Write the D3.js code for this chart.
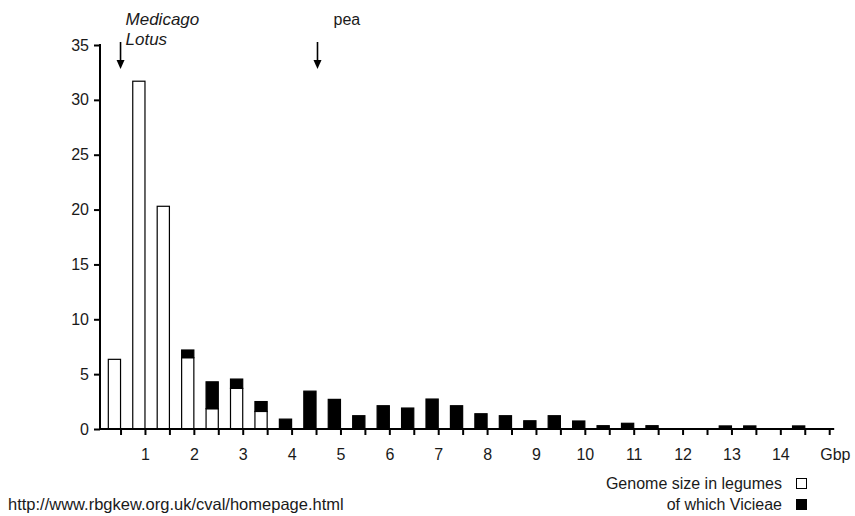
<!DOCTYPE html>
<html>
<head>
<meta charset="utf-8">
<script src="https://cdn.jsdelivr.net/npm/d3@7"></script>
<style>
  html, body { margin: 0; padding: 0; background: #fff; }
  svg text { font-family: "Liberation Sans", Arial, sans-serif; fill: #1a1a1a; }
</style>
</head>
<body>
<svg id="chart" width="855" height="516"></svg>
<script>
// ---- data ----
// upper edge (Gbp) of each 0.5 Gbp genome-size bin
const binEdges = [0.5, 1, 1.5, 2, 2.5, 3, 3.5, 4, 4.5, 5, 5.5, 6, 6.5, 7, 7.5,
                  8, 8.5, 9, 9.5, 10, 10.5, 11, 11.5, 12, 12.5, 13, 13.5, 14, 14.5];
// legumes other than Vicieae (white part, % of species)
const otherLegumes = [6.35, 31.7, 20.3, 6.5, 1.85, 3.7, 1.6, 0, 0, 0, 0, 0, 0, 0, 0,
                      0, 0, 0, 0, 0, 0, 0, 0, 0, 0, 0, 0, 0, 0];
// Vicieae (black part)
const vicieae = [0, 0, 0, 0.7, 2.45, 0.85, 0.9, 0.9, 3.45, 2.7, 1.21, 2.12, 1.91, 2.73, 2.12,
                 1.39, 1.21, 0.75, 1.21, 0.73, 0.3, 0.52, 0.3, 0, 0, 0.28, 0.28, 0, 0.28];
const xTickValues = [0.5, 1, 1.5, 2, 2.5, 3, 3.5, 4, 4.5, 5, 5.5, 6, 6.5, 7, 7.5,
                     8, 8.5, 9, 9.5, 10, 10.5, 11, 11.5, 12, 12.5, 13, 13.5, 14, 14.5, 15];
const xTickLabels = [1, 2, 3, 4, 5, 6, 7, 8, 9, 10, 11, 12, 13, 14];
const yTickValues = [0, 5, 10, 15, 20, 25, 30, 35];
const markers = [
  { lines: ["Medicago", "Lotus"], gbp: 0.5, italic: true },
  { lines: ["pea"], gbp: 4.53, italic: false }
];
const legendItems = [
  { label: "Genome size in legumes", fill: "#fff" },
  { label: "of which Vicieae", fill: "#000" }
];
const sourceText = "http://www.rbgkew.org.uk/cval/homepage.html";

// ---- layout ----
const svg = d3.select("#chart");
const yAxisX = 100;
const x = d3.scaleLinear().domain([0, 15]).range([96.1, 829.2]);
const y = d3.scaleLinear().domain([0, 35]).range([429, 45]);
const binWidth = 0.25;

const rows = binEdges.map((e, i) => ({ edge: e, other: otherLegumes[i], vicieae: vicieae[i] }));
const stacked = d3.stack().keys(["other", "vicieae"])(rows);

// bars
const fills = { other: "#fff", vicieae: "#000" };
stacked.forEach(layer => {
  svg.append("g").selectAll("rect")
    .data(layer.filter(d => d[1] - d[0] > 0))
    .join("rect")
    .attr("x", d => x(d.data.edge - binWidth))
    .attr("width", d => x(d.data.edge) - x(d.data.edge - binWidth))
    .attr("y", d => y(d[1]))
    .attr("height", d => y(d[0]) - y(d[1]))
    .attr("fill", fills[layer.key])
    .attr("stroke", "#000")
    .attr("stroke-width", 1.2);
});

// y axis
const yAxis = svg.append("g").attr("transform", `translate(${yAxisX},0)`)
  .call(d3.axisLeft(y).tickValues(yTickValues).tickSize(6).tickPadding(5));
yAxis.select(".domain").remove();
yAxis.selectAll(".tick line").attr("stroke", "#000").attr("stroke-width", 2);
yAxis.selectAll(".tick text").attr("font-size", 16).attr("fill", "#1a1a1a")
  .attr("font-family", '"Liberation Sans", Arial, sans-serif');
svg.append("line").attr("x1", yAxisX).attr("x2", yAxisX)
  .attr("y1", y(35) - 1).attr("y2", y(0) + 1)
  .attr("stroke", "#000").attr("stroke-width", 2);

// x axis
const xAxis = svg.append("g").attr("transform", `translate(0,${y(0)})`)
  .call(d3.axisBottom(x).tickValues(xTickValues).tickSize(6).tickPadding(14)
    .tickFormat(d => xTickLabels.includes(d) ? d : ""));
xAxis.select(".domain").remove();
xAxis.selectAll(".tick line").attr("stroke", "#000").attr("stroke-width", 2);
xAxis.selectAll(".tick text").attr("font-size", 16).attr("fill", "#1a1a1a")
  .attr("font-family", '"Liberation Sans", Arial, sans-serif');
svg.append("line").attr("x1", yAxisX).attr("x2", x(15) + 5)
  .attr("y1", y(0)).attr("y2", y(0))
  .attr("stroke", "#000").attr("stroke-width", 2);
svg.append("text").attr("x", x(15) - 9).attr("y", 460)
  .attr("font-size", 16).text("Gbp");

// markers (arrows + labels)
const mk = svg.append("g").selectAll("g").data(markers).join("g");
mk.append("line")
  .attr("x1", d => x(d.gbp)).attr("x2", d => x(d.gbp))
  .attr("y1", 42).attr("y2", 62)
  .attr("stroke", "#000").attr("stroke-width", 1.6);
mk.append("path")
  .attr("d", d => `M${x(d.gbp) - 4},60 L${x(d.gbp) + 4},60 L${x(d.gbp)},69 Z`)
  .attr("fill", "#000");
mk.each(function(d) {
  const g = d3.select(this);
  d.lines.forEach((t, i) => {
    g.append("text")
      .attr("x", x(d.gbp) + (d.italic ? 5 : 16))
      .attr("y", 25 + i * 20)
      .attr("font-size", d.italic ? 17 : 16)
      .attr("font-style", d.italic ? "italic" : "normal")
      .text(t);
  });
});

// legend
const lg = svg.append("g").selectAll("g").data(legendItems).join("g")
  .attr("transform", (d, i) => `translate(0,${489 + i * 21})`);
lg.append("text").attr("x", 782).attr("y", 0).attr("text-anchor", "end")
  .attr("font-size", 16).text(d => d.label);
lg.append("rect").attr("x", 796.5).attr("y", -10.5).attr("width", 10).attr("height", 10)
  .attr("fill", d => d.fill).attr("stroke", "#000").attr("stroke-width", 1);

// source
svg.append("text").attr("x", 8).attr("y", 510).attr("font-size", 16.5).text(sourceText);
</script>
</body>
</html>
